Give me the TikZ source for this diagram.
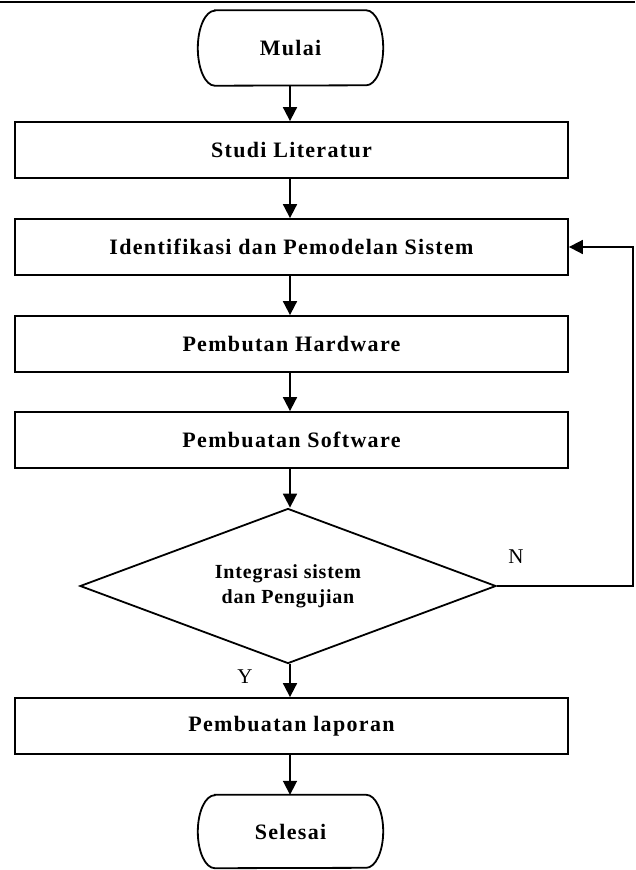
\documentclass[tikz,border=0pt]{standalone}
\usepackage{fontspec}
\setmainfont{Liberation Serif}
\newfontfamily\spacedfont{Liberation Serif}[LetterSpace=6]
\newfontfamily\decfont{Liberation Serif}[LetterSpace=4]
\usetikzlibrary{arrows.meta,shapes.geometric}
\begin{document}
\begin{tikzpicture}[x=1pt,y=-1pt,
  lw/.style={line width=1.8pt},
  boxnode/.style={draw,lw,minimum width=553pt,minimum height=56pt,inner sep=0pt,
    font=\spacedfont\bfseries\fontsize{22}{25}\selectfont},
  termnode/.style={minimum width=185pt,inner sep=0pt,
    font=\spacedfont\bfseries\fontsize{22}{25}\selectfont},
  decnode/.style={draw,lw,diamond,aspect=2.68,minimum width=416pt,minimum height=155pt,
    inner sep=0pt,align=center,font=\decfont\bfseries\fontsize{20}{25}\selectfont},
  lblnode/.style={inner sep=0pt,font=\fontsize{21}{24}\selectfont},
  arr/.style={lw,-{Triangle[length=14pt,width=14pt]}}]
\useasboundingbox (0,0) rectangle (635,870);
\draw[lw] (0,2) -- (635,2);
% terminals
\node[termnode,minimum height=75pt] (start) at (290.5,48) {Mulai};
\draw[lw] ([xshift=17pt]start.north west) -- ([xshift=-17pt]start.north east)
  arc[start angle=90,end angle=-90,x radius=17pt,y radius=37.5pt]
  -- ([xshift=17pt]start.south west)
  arc[start angle=270,end angle=90,x radius=17pt,y radius=37.5pt] -- cycle;
\node[boxnode] (studi) at (291.5,150) {Studi Literatur};
\node[boxnode] (ident) at (291.5,247) {Identifikasi dan Pemodelan Sistem};
\node[boxnode] (hard) at (291.5,344) {Pembutan Hardware};
\node[boxnode] (soft) at (291.5,440) {Pembuatan Software};
\node[decnode] (dec) at (288,586) {Integrasi sistem\\dan Pengujian};
\node[boxnode] (lap) at (291.5,726) {Pembuatan laporan};
\node[termnode,minimum height=73pt] (end) at (290.5,831.5) {Selesai};
\draw[lw] ([xshift=17pt]end.north west) -- ([xshift=-17pt]end.north east)
  arc[start angle=90,end angle=-90,x radius=17pt,y radius=36.5pt]
  -- ([xshift=17pt]end.south west)
  arc[start angle=270,end angle=90,x radius=17pt,y radius=36.5pt] -- cycle;
% labels
\node[lblnode] (nlab) at (516,557) {N};
\node[lblnode] (ylab) at (245,677) {Y};
% connectors
\draw[arr] (start.south -| 290,0) -- (studi.north -| 290,0);
\draw[arr] (studi.south -| 290,0) -- (ident.north -| 290,0);
\draw[arr] (ident.south -| 290,0) -- (hard.north -| 290,0);
\draw[arr] (hard.south -| 290,0) -- (soft.north -| 290,0);
\draw[arr] (soft.south -| 290,0) -- (dec.north -| 290,0);
\draw[arr] (dec.south -| 290,0) -- (lap.north -| 290,0);
\draw[arr] (lap.south -| 290,0) -- (end.north -| 290,0);
\coordinate (fb) at (633,586);
\draw[arr] (dec.east) -- (fb) |- (ident.east);
\end{tikzpicture}
\end{document}
